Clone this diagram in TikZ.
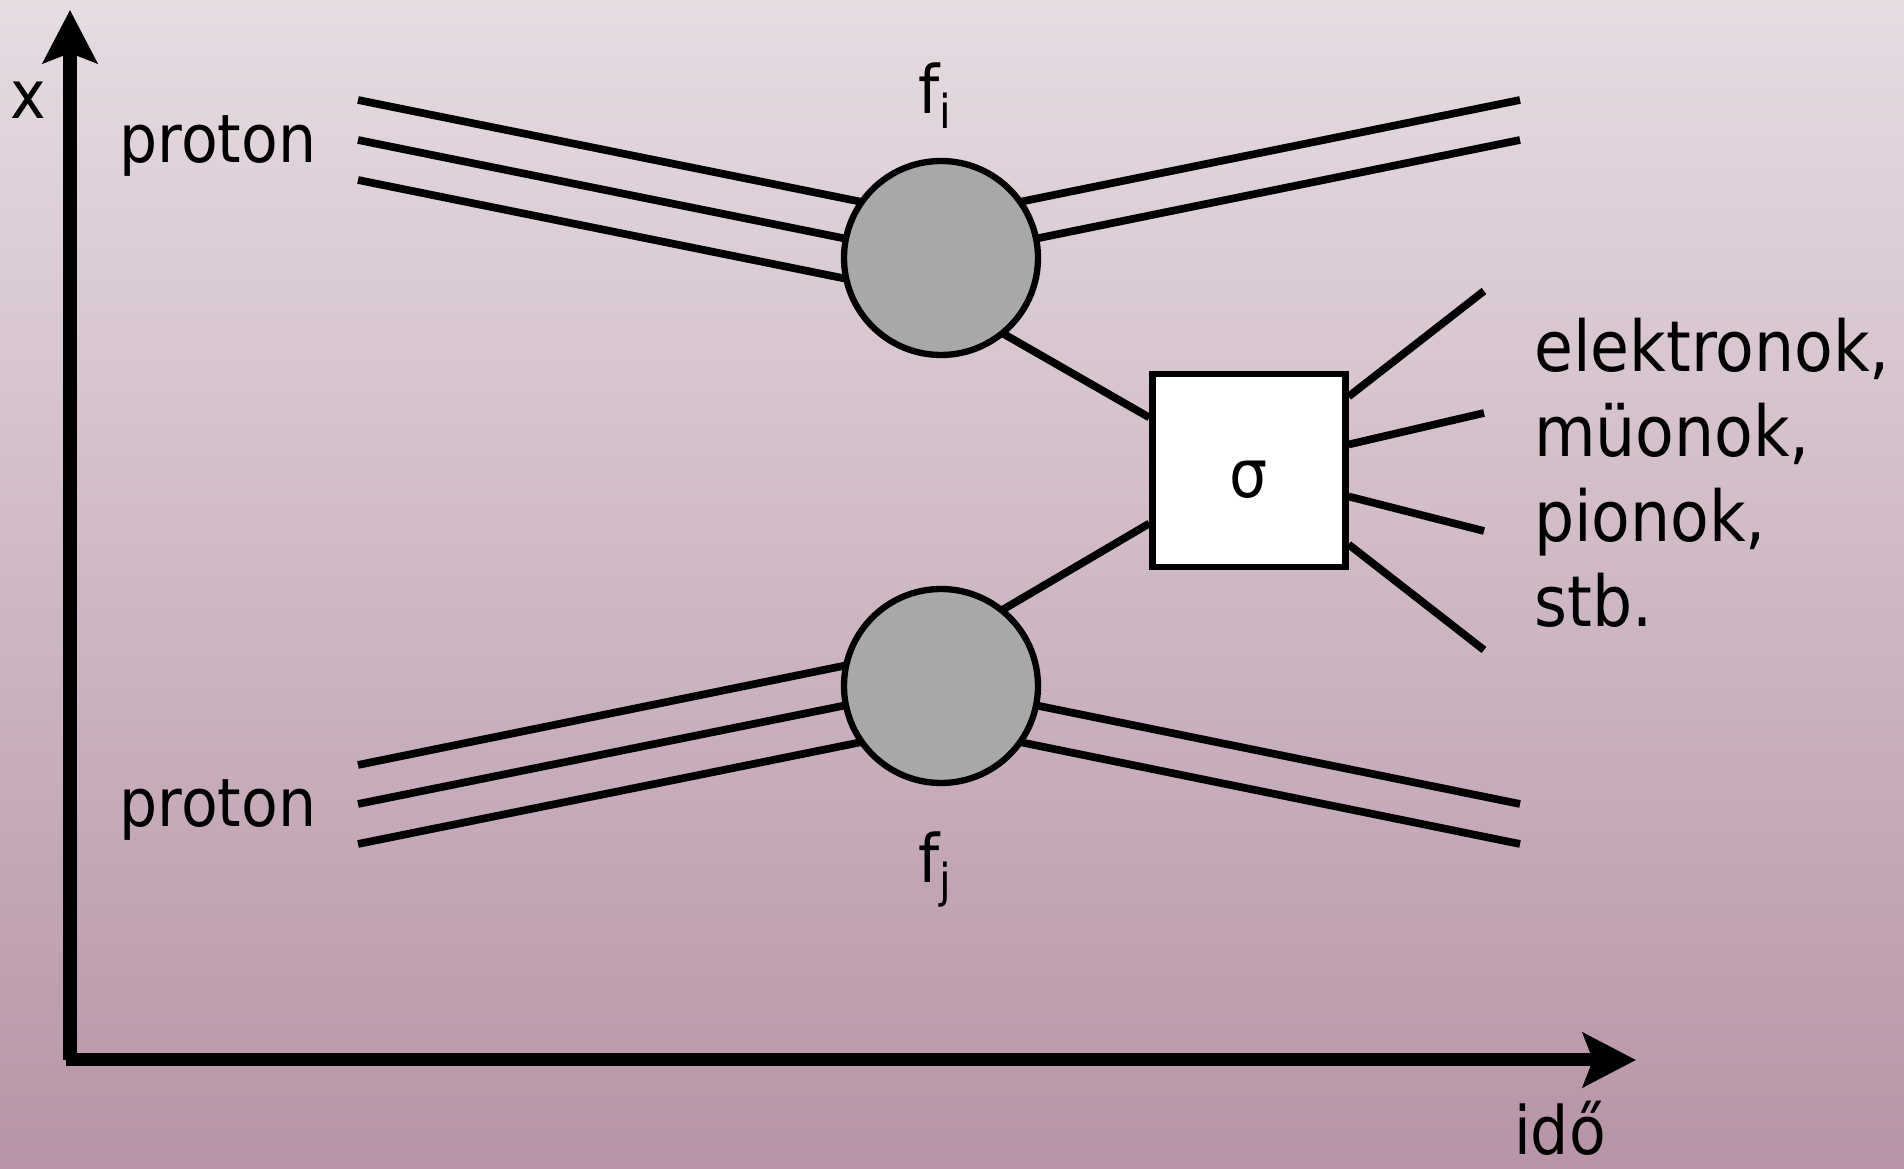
\documentclass[tikz,border=0pt]{standalone}
\usepackage{fontspec}
\setmainfont{DejaVu Sans Condensed}
\usetikzlibrary{arrows.meta}
\definecolor{bgtop}{HTML}{E6DCE2}
\definecolor{bgbottom}{HTML}{B794A7}
\definecolor{blobgray}{HTML}{A8A8A8}

\begin{document}
\begin{tikzpicture}[
  every node/.style={inner sep=1pt,font=\fontsize{19}{24}\selectfont},
  quark/.style={line width=2.2pt},
  axis/.style={line width=3.7pt,-{Stealth[length=5.3mm,width=5.4mm,inset=1mm]}},
  blob/.style={circle,draw,fill=blobgray,line width=1.8pt,minimum size=1.94cm,inner sep=0pt},
  xsect/.style={rectangle,draw,fill=white,line width=1.8pt,minimum size=1.93cm,
    inner sep=0pt,text height=5.5mm,text depth=0pt}
]
  \fill[top color=bgtop,bottom color=bgbottom] (0,0) rectangle (19.04,11.69);
  \useasboundingbox (0,0) rectangle (19.04,11.69);

  % axes
  \coordinate (O) at (0.70,1.09);
  \coordinate (Oh) at (0.66,1.09);
  \coordinate (X) at (0.70,11.59);
  \coordinate (T) at (16.36,1.09);
  \draw[axis] (O) -- (X);
  \draw[axis] (Oh) -- (T);

  % vertices
  \coordinate (ci) at (9.41,9.11);
  \coordinate (cj) at (9.41,4.83);
  \node[xsect] (sigma) at (12.49,6.985) {σ};

  % incoming and outgoing partons
  \coordinate (pi1) at (3.58,10.69);
  \coordinate (pi2) at (3.58,10.29);
  \coordinate (pi3) at (3.58,9.89);
  \coordinate (qi1) at (15.20,10.69);
  \coordinate (qi2) at (15.20,10.29);
  \coordinate (pj1) at (3.58,4.04);
  \coordinate (pj2) at (3.58,3.65);
  \coordinate (pj3) at (3.58,3.25);
  \coordinate (qj2) at (15.20,3.65);
  \coordinate (qj3) at (15.20,3.25);

  \draw[quark] (pi1) -- ([yshift=4mm]ci) -- (qi1);
  \draw[quark] (pi2) -- (ci) -- (qi2);
  \draw[quark] (pi3) -- ([yshift=-4mm]ci) -- ([yshift=5.3mm]sigma.west);
  \draw[quark] (pj1) -- ([yshift=4mm]cj) -- ([yshift=-5.3mm]sigma.west);
  \draw[quark] (pj2) -- (cj) -- (qj2);
  \draw[quark] (pj3) -- ([yshift=-4mm]cj) -- (qj3);

  \node[blob] (vi) at (ci) {};
  \node[blob] (vj) at (cj) {};

  % products
  \coordinate (e1) at (14.84,8.78);
  \coordinate (e2) at (14.84,7.56);
  \coordinate (e3) at (14.84,6.38);
  \coordinate (e4) at (14.84,5.19);
  \draw[quark] ([yshift=7.4mm]sigma.east) -- (e1);
  \draw[quark] ([yshift=2.6mm]sigma.east) -- (e2);
  \draw[quark] ([yshift=-2.6mm]sigma.east) -- (e3);
  \draw[quark] ([yshift=-7.4mm]sigma.east) -- (e4);

  % labels
  \node (xlab) at (0.28,10.69) {x};
  \node[anchor=base] (proti) at (2.18,10.06) {proton};
  \node[anchor=base] (protj) at (2.18,3.42) {proton};
  \node[anchor=base] (fi) at (9.36,10.55) {f\textsubscript{i}};
  \node[anchor=base] (fj) at (9.36,2.86) {f\textsubscript{j}};
  \node[anchor=north west,align=left,font=\fontsize{20}{24.2}\selectfont] (prod)
    at (15.30,8.55) {elektronok,\\müonok,\\pionok,\\stb.};
  \node[anchor=base] (ido) at (15.60,0.14) {idő};
\end{tikzpicture}
\end{document}
